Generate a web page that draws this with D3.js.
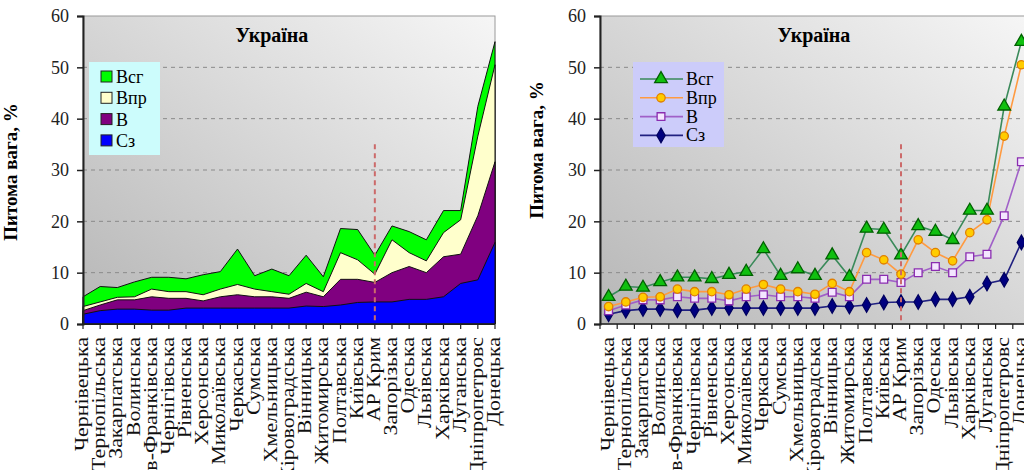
<!DOCTYPE html>
<html lang="uk">
<head>
<meta charset="utf-8">
<title>Україна</title>
<script src="https://cdn.jsdelivr.net/npm/d3@7"></script>
<style>
  body{margin:0;background:#fff;}
  svg{display:block;font-family:"Liberation Serif","Times New Roman",serif;}
</style>
</head>
<body>
<div id="chart"></div>
<script>
var regions = ["Чернівецька","Тернопільська","Закарпатська","Волинська","Ів-Франківська","Чернігівська","Рівненська","Херсонська","Миколаївська","Черкаська","Сумська","Хмельницька","Кіровоградська","Вінницька","Житомирська","Полтавська","Київська","АР Крим","Запорізька","Одеська","Львівська","Харківська","Луганська","Дніпропетровс","Донецька"]
var vsg = [5.3,7.3,7.1,8.2,9.1,9.1,8.8,9.6,10.2,14.6,9.4,10.7,9.4,13.4,9.2,18.6,18.4,13.4,19.1,18.0,16.4,22.1,22.1,42.4,55.0]
var vpr = [3.4,4.3,5.2,5.3,6.8,6.3,6.3,5.7,6.8,7.7,6.8,6.3,5.8,7.9,6.3,13.9,12.5,9.7,16.4,13.9,12.3,17.8,20.3,36.6,50.5]
var vv  = [2.6,3.7,4.7,4.7,5.3,5.0,5.0,4.5,5.3,5.7,5.3,5.3,5.0,6.2,5.3,8.7,8.7,8.1,10.0,11.2,10.0,13.1,13.6,21.1,31.6]
var sz  = [1.9,2.6,2.9,2.9,2.7,2.7,3.1,3.1,3.1,3.1,3.1,3.1,3.1,3.5,3.4,3.7,4.2,4.3,4.3,4.8,4.8,5.3,7.9,8.6,15.9]
var seriesNames = ["Всг","Впр","В","Сз"]
var yTicks = [0,10,20,30,40,50,60]
var markRegion = "АР Крим"
var markTop = 35

var series = [vsg, vpr, vv, sz]

var svg = d3.select("#chart").append("svg")
    .attr("width",1024).attr("height",470)

var defs = svg.append("defs")
var grad = defs.append("linearGradient").attr("id","bg")
    .attr("x1","0").attr("y1","1").attr("x2","1").attr("y2","0")
grad.append("stop").attr("offset","0%").attr("stop-color","#b6b6b6")
grad.append("stop").attr("offset","100%").attr("stop-color","#f6f6f6")

var plotTop = 16, plotBottom = 324
var yScale = d3.scaleLinear().domain([0,60]).range([plotBottom,plotTop])

function frame(g, x0, x1, titleX){
    g.append("rect").attr("x",x0).attr("y",plotTop).attr("width",x1-x0).attr("height",plotBottom-plotTop)
        .attr("fill","url(#bg)").attr("stroke","#9a9a9a").attr("stroke-width",1)

    // dashed grid
    g.selectAll(".grid").data(yTicks.filter(function(d){return d>0 && d<60}))
        .enter().append("line")
        .attr("x1",x0).attr("x2",x1)
        .attr("y1",function(d){return yScale(d)}).attr("y2",function(d){return yScale(d)})
        .attr("stroke","#8a8a8a").attr("stroke-dasharray","4,4")

    g.append("text").attr("x",titleX).attr("y",42).attr("text-anchor","middle")
        .attr("font-size","20px").attr("font-weight","bold").text("Україна")
}

function axes(g, x0, x1, xScale, tickXs, labelOffset, yTitleX, yTitleY){
    var yAxis = d3.axisLeft(yScale).tickValues(yTicks).tickSize(6).tickPadding(8)
    var ga = g.append("g").attr("transform","translate("+x0+",0)").call(yAxis)
    ga.select(".domain").attr("stroke","#222").attr("stroke-width",2)
    ga.selectAll(".tick line").attr("stroke","#222").attr("stroke-width",1.5)
    ga.selectAll("text").attr("font-size","18px").attr("font-family","Liberation Serif").attr("fill","#222")

    g.append("line").attr("x1",x0).attr("x2",x1).attr("y1",plotBottom).attr("y2",plotBottom)
        .attr("stroke","#222").attr("stroke-width",1.5)
    g.selectAll(".xt").data(tickXs).enter().append("line")
        .attr("x1",function(d){return d}).attr("x2",function(d){return d})
        .attr("y1",plotBottom).attr("y2",plotBottom+5).attr("stroke","#222").attr("stroke-width",1.2)

    g.selectAll(".xl").data(regions).enter().append("text")
        .attr("transform",function(d){return "translate("+(xScale(d)+labelOffset)+","+(plotBottom+13)+") rotate(-90) scale(1.15,1)"})
        .attr("text-anchor","end").attr("font-size","19px").attr("fill","#111")
        .text(function(d){return d})

    g.append("text").attr("transform","translate("+yTitleX+","+yTitleY+") rotate(-90)")
        .attr("text-anchor","middle").attr("font-size","19px").attr("font-weight","bold")
        .text("Питома вага, %")

    g.append("line").attr("x1",xScale(markRegion)).attr("x2",xScale(markRegion))
        .attr("y1",yScale(markTop)).attr("y2",plotBottom)
        .attr("stroke","#cc6a6a").attr("stroke-width",2).attr("stroke-dasharray","5,4")
}

// ---- left chart: overlapping areas
function drawAreas(){
    var x0 = 83, x1 = 495
    var xScale = d3.scalePoint().domain(regions).range([x0,x1])
    var g = svg.append("g")
    frame(g, x0, x1, 272)

    var fills = ["#00ff00","#ffffcc","#800080","#0000ff"]
    var area = d3.area()
        .x(function(d,i){return xScale(regions[i])})
        .y0(plotBottom).y1(function(d){return yScale(d)})
    series.forEach(function(s,k){
        g.append("path").datum(s).attr("d",area)
            .attr("fill",fills[k]).attr("stroke","#111").attr("stroke-width",1)
    })

    axes(g, x0, x1, xScale, regions.map(function(d){return xScale(d)}), 5, 17, 172)

    // legend
    var lg = g.append("g")
    lg.append("rect").attr("x",89).attr("y",62).attr("width",71).attr("height",93).attr("fill","#ccfcfc")
    seriesNames.forEach(function(n,k){
        var cy = 77 + k*21.3
        lg.append("rect").attr("x",101).attr("y",cy-6).attr("width",11).attr("height",11)
            .attr("fill",fills[k]).attr("stroke","#222")
        lg.append("text").attr("x",116).attr("y",cy+6).attr("font-size","18px").text(n)
    })
}

// ---- right chart: lines with markers
function drawLines(){
    var x0 = 600, x1 = 1030
    var xScale = d3.scalePoint().domain(regions).range([x0,x1]).padding(0.5)
    var step = xScale.step()
    var g = svg.append("g")
    frame(g, x0, x1, 814)

    var lineCol = ["#3a8a5a","#ff9a40","#a060c8","#202080"]
    var mFill = ["#10c010","#ffcc00","#f4e6ff","#000080"]
    var mStroke = ["#006000","#e08000","#8a2cb0","#000060"]
    var shapes = [d3.symbolTriangle,d3.symbolCircle,d3.symbolSquare,d3.symbolDiamond]
    var sizes = [70,55,60,60]
    var line = d3.line().x(function(d,i){return xScale(regions[i])}).y(function(d){return yScale(d)})

    for(var k=series.length-1;k>=0;k--){
        g.append("path").datum(series[k]).attr("d",line)
            .attr("fill","none").attr("stroke",lineCol[k]).attr("stroke-width",1.6)
        g.selectAll(".m"+k).data(series[k]).enter().append("path")
            .attr("transform",function(d,i){return "translate("+xScale(regions[i])+","+yScale(d)+")"})
            .attr("d",d3.symbol().type(shapes[k]).size(sizes[k]))
            .attr("fill",mFill[k]).attr("stroke",mStroke[k]).attr("stroke-width",1.3)
    }

    var ticks = d3.range(regions.length+1).map(function(i){return x0 + i*step})
    axes(g, x0, x1, xScale, ticks, 5, 543, 150)

    var lg = g.append("g")
    lg.append("rect").attr("x",633).attr("y",62).attr("width",91).attr("height",85).attr("fill","#ccccfa")
    seriesNames.forEach(function(n,k){
        var cy = 79 + k*18.8
        lg.append("line").attr("x1",640).attr("x2",683).attr("y1",cy).attr("y2",cy)
            .attr("stroke",lineCol[k]).attr("stroke-width",1.6)
        lg.append("path").attr("transform","translate(661,"+cy+")")
            .attr("d",d3.symbol().type(shapes[k]).size(sizes[k]))
            .attr("fill",mFill[k]).attr("stroke",mStroke[k]).attr("stroke-width",1.3)
        lg.append("text").attr("x",686).attr("y",cy+6).attr("font-size","18px").text(n)
    })
}

drawAreas()
drawLines()
</script>
</body>
</html>
